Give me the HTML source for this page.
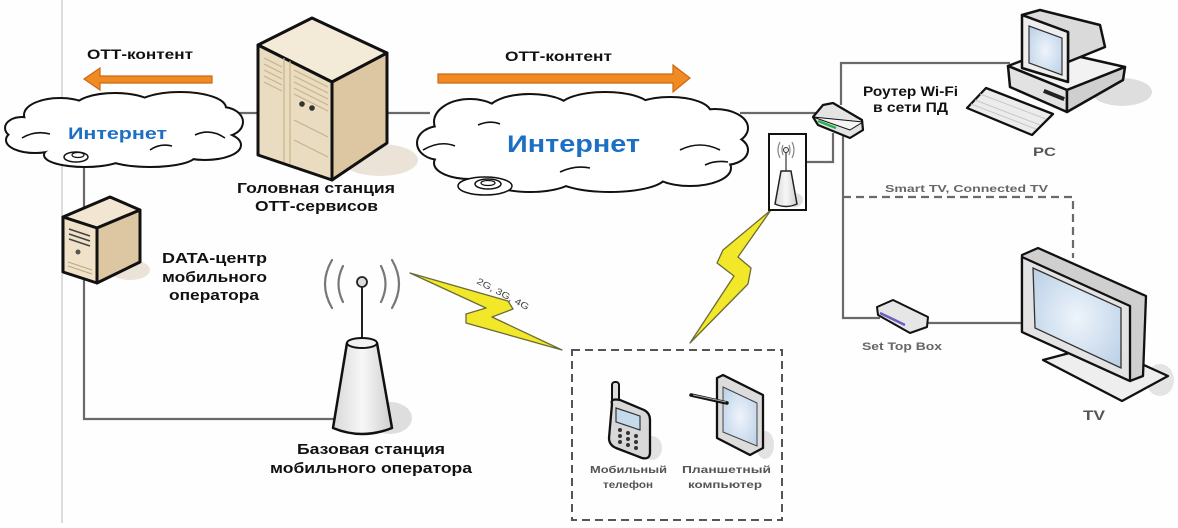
<!DOCTYPE html>
<html><head><meta charset="utf-8"><style>
html,body{margin:0;padding:0;background:#fff;}
svg{display:block;}
text{font-family:"Liberation Sans",Arial,sans-serif;}
</style></head><body>
<svg width="1178" height="528" viewBox="0 0 1178 528" xmlns="http://www.w3.org/2000/svg">
<defs>
<linearGradient id="cone" x1="0" x2="1" y1="0" y2="0"><stop offset="0" stop-color="#d8d8d8"/><stop offset="0.5" stop-color="#f7f7f7"/><stop offset="1" stop-color="#cfcfcf"/></linearGradient>
<radialGradient id="scr" cx="0.5" cy="0.5" r="0.7"><stop offset="0" stop-color="#eef4fb"/><stop offset="1" stop-color="#b9cfe6"/></radialGradient>
</defs>
<rect width="1178" height="528" fill="#fefefe"/>
<line x1="62" y1="0" x2="62" y2="523" stroke="#dcdcdc" stroke-width="2"/>

<!-- connectors -->
<g stroke="#6a6a6a" stroke-width="2.2" fill="none">
<polyline points="84,160 84,419 338,419"/>
<line x1="238" y1="113" x2="262" y2="113"/>
<line x1="385" y1="113" x2="430" y2="113"/>
<line x1="740" y1="113" x2="816" y2="113"/>
<polyline points="841,105 841,63 1010,63"/>
<polyline points="843,135 843,318 880,318"/>
<line x1="926" y1="323" x2="1024" y2="323"/>
<polyline points="833,133 833,162 806,162"/>
</g>
<polyline points="843,197 1073,197 1073,258" stroke="#6a6a6a" stroke-width="2.2" fill="none" stroke-dasharray="8,5"/>

<!-- orange arrows -->
<g fill="#f18a22" stroke="#c96a14" stroke-width="1.2">
<polygon points="212,76 100,76 100,68 84,79 100,90 100,83 212,83"/>
<polygon points="438,74 673,74 673,65 690,78 673,92 673,83 438,83"/>
</g>
<text x="87" y="59" font-size="14" font-weight="bold" fill="#111" textLength="106" lengthAdjust="spacingAndGlyphs">ОТТ-контент</text>
<text x="505" y="61" font-size="14" font-weight="bold" fill="#111" textLength="107" lengthAdjust="spacingAndGlyphs">ОТТ-контент</text>

<!-- left cloud -->
<g stroke="#111" stroke-width="4">
<ellipse cx="125" cy="130" rx="95" ry="24"/><ellipse cx="60" cy="115" rx="35" ry="16"/><ellipse cx="115" cy="108" rx="40" ry="14"/><ellipse cx="180" cy="108" rx="45" ry="15"/><ellipse cx="222" cy="122" rx="20" ry="14"/><ellipse cx="205" cy="145" rx="35" ry="14"/><ellipse cx="150" cy="155" rx="45" ry="11"/><ellipse cx="85" cy="155" rx="40" ry="11"/><ellipse cx="35" cy="140" rx="28" ry="12"/><ellipse cx="22" cy="128" rx="16" ry="10"/>
</g>
<g fill="#fff">
<ellipse cx="125" cy="130" rx="95" ry="24"/><ellipse cx="60" cy="115" rx="35" ry="16"/><ellipse cx="115" cy="108" rx="40" ry="14"/><ellipse cx="180" cy="108" rx="45" ry="15"/><ellipse cx="222" cy="122" rx="20" ry="14"/><ellipse cx="205" cy="145" rx="35" ry="14"/><ellipse cx="150" cy="155" rx="45" ry="11"/><ellipse cx="85" cy="155" rx="40" ry="11"/><ellipse cx="35" cy="140" rx="28" ry="12"/><ellipse cx="22" cy="128" rx="16" ry="10"/>
</g>
<g stroke="#111" stroke-width="1.6" fill="none">
<path d="M22,138 Q35,130 50,134"/><path d="M195,135 Q210,128 225,138"/><path d="M150,150 Q160,143 172,146"/>
</g>
<ellipse cx="76" cy="157" rx="12" ry="5" fill="#fff" stroke="#111" stroke-width="1.5"/>
<ellipse cx="78" cy="155" rx="6" ry="2.5" fill="#fff" stroke="#111" stroke-width="1.2"/>
<text x="68" y="139" font-size="17" font-weight="bold" fill="#1d6fc4" textLength="99" lengthAdjust="spacingAndGlyphs">Интернет</text>

<!-- middle cloud -->
<g stroke="#111" stroke-width="4">
<ellipse cx="585" cy="145" rx="135" ry="38"/><ellipse cx="470" cy="122" rx="35" ry="22"/><ellipse cx="530" cy="112" rx="42" ry="17"/><ellipse cx="605" cy="108" rx="45" ry="15"/><ellipse cx="670" cy="113" rx="40" ry="15"/><ellipse cx="715" cy="128" rx="32" ry="18"/><ellipse cx="725" cy="150" rx="22" ry="14"/><ellipse cx="690" cy="168" rx="40" ry="17"/><ellipse cx="610" cy="176" rx="55" ry="15"/><ellipse cx="530" cy="176" rx="45" ry="15"/><ellipse cx="470" cy="163" rx="35" ry="15"/><ellipse cx="440" cy="143" rx="22" ry="16"/>
</g>
<g fill="#fff">
<ellipse cx="585" cy="145" rx="135" ry="38"/><ellipse cx="470" cy="122" rx="35" ry="22"/><ellipse cx="530" cy="112" rx="42" ry="17"/><ellipse cx="605" cy="108" rx="45" ry="15"/><ellipse cx="670" cy="113" rx="40" ry="15"/><ellipse cx="715" cy="128" rx="32" ry="18"/><ellipse cx="725" cy="150" rx="22" ry="14"/><ellipse cx="690" cy="168" rx="40" ry="17"/><ellipse cx="610" cy="176" rx="55" ry="15"/><ellipse cx="530" cy="176" rx="45" ry="15"/><ellipse cx="470" cy="163" rx="35" ry="15"/><ellipse cx="440" cy="143" rx="22" ry="16"/>
</g>
<g stroke="#111" stroke-width="1.6" fill="none">
<path d="M423,150 Q440,140 455,146"/><path d="M680,150 Q700,140 720,150"/><path d="M705,165 Q715,160 728,162"/><path d="M560,172 Q575,165 590,168"/><path d="M478,125 Q490,120 500,124"/>
</g>
<ellipse cx="485" cy="186" rx="27" ry="9" fill="#fff" stroke="#111" stroke-width="1.5"/>
<ellipse cx="488" cy="184" rx="13" ry="5" fill="#fff" stroke="#111" stroke-width="1.5"/>
<ellipse cx="488" cy="183" rx="7" ry="2.5" fill="#fff" stroke="#111" stroke-width="1.2"/>
<text x="507" y="152" font-size="24" font-weight="bold" fill="#1d6fc4" textLength="133" lengthAdjust="spacingAndGlyphs">Интернет</text>

<!-- head-end server -->
<ellipse cx="380" cy="160" rx="38" ry="16" fill="#ebe3d8"/>
<g stroke="#111" stroke-width="3" stroke-linejoin="round">
<polygon points="258,45 312,18 387,53 332,82" fill="#f4ead8"/>
<polygon points="258,45 332,82 332,180 258,155" fill="#eadcc0"/>
<polygon points="332,82 387,53 387,143 332,180" fill="#dcc7a2"/>
</g>
<g stroke="#c9b28a" stroke-width="1.2" fill="none">
<line x1="284" y1="58" x2="284" y2="162"/><line x1="290" y1="61" x2="290" y2="164"/>
<path d="M264,58 L282,67 M264,64 L282,73 M264,70 L282,79 M264,76 L282,85 M264,82 L282,91"/>
<path d="M294,70 L328,87 M294,76 L328,93 M294,82 L328,99 M294,88 L328,105 M294,94 L328,111"/>
<path d="M294,120 L328,137 M294,140 L328,157"/>
</g>
<circle cx="302" cy="104" r="2.8" fill="#333"/><circle cx="312" cy="108" r="2.8" fill="#333"/>
<text x="237" y="193" font-size="15" font-weight="bold" fill="#111" textLength="158" lengthAdjust="spacingAndGlyphs">Головная станция</text>
<text x="255" y="211" font-size="15" font-weight="bold" fill="#111" textLength="123" lengthAdjust="spacingAndGlyphs">ОТТ-сервисов</text>

<!-- data center -->
<ellipse cx="130" cy="270" rx="20" ry="10" fill="#ece3d8"/>
<g stroke="#111" stroke-width="3" stroke-linejoin="round">
<polygon points="63,217 110,197 140,210 97,228" fill="#f2e6d2"/>
<polygon points="63,217 97,228 97,283 63,272" fill="#efe2c8"/>
<polygon points="97,228 140,210 140,262 97,283" fill="#dcc7a2"/>
</g>
<g stroke="#444" stroke-width="1.5"><line x1="69" y1="229" x2="90" y2="236"/><line x1="69" y1="234" x2="90" y2="241"/><line x1="69" y1="239" x2="90" y2="246"/></g>
<circle cx="78" cy="252" r="2.5" fill="#555"/>
<g stroke="#b9a582" stroke-width="1"><line x1="68" y1="262" x2="92" y2="270"/><line x1="68" y1="266" x2="92" y2="274"/></g>
<text x="162" y="263" font-size="15" font-weight="bold" fill="#111" textLength="105" lengthAdjust="spacingAndGlyphs">DATA-центр</text>
<text x="162" y="282" font-size="15" font-weight="bold" fill="#111" textLength="105" lengthAdjust="spacingAndGlyphs">мобильного</text>
<text x="169" y="300" font-size="15" font-weight="bold" fill="#111" textLength="90" lengthAdjust="spacingAndGlyphs">оператора</text>

<!-- base station -->
<ellipse cx="390" cy="418" rx="22" ry="16" fill="#dedede"/>
<g stroke="#777" stroke-width="2.2" fill="none" stroke-linecap="round">
<path d="M343,266 Q334,284 343,302"/><path d="M332,260 Q318,284 332,308"/>
<path d="M381,266 Q390,284 381,302"/><path d="M392,260 Q406,284 392,308"/>
</g>
<line x1="362" y1="287" x2="362" y2="340" stroke="#222" stroke-width="2"/>
<circle cx="362" cy="282" r="5" fill="#ddd" stroke="#222" stroke-width="1.8"/>
<path d="M347,343 L377,343 L392,428 Q362,440 333,428 Z" fill="url(#cone)" stroke="#111" stroke-width="2.5" stroke-linejoin="round"/>
<ellipse cx="362" cy="343" rx="15" ry="5" fill="#f2f2f2" stroke="#111" stroke-width="2"/>
<text x="297" y="454" font-size="15" font-weight="bold" fill="#111" textLength="148" lengthAdjust="spacingAndGlyphs">Базовая станция</text>
<text x="270" y="473" font-size="15" font-weight="bold" fill="#111" textLength="202" lengthAdjust="spacingAndGlyphs">мобильного оператора</text>

<!-- lightning 1 -->
<polygon points="410,273 508,301 513,309 492,317 562,350 466,323 466,314 486,308" fill="#f2e829" stroke="#6b6b3a" stroke-width="1.3" stroke-linejoin="round"/>
<text x="0" y="0" font-size="9" fill="#444" transform="translate(476,283) rotate(28)" textLength="58" lengthAdjust="spacingAndGlyphs">2G, 3G, 4G</text>

<!-- lightning 2 -->
<polygon points="771,210 723,250 717,263 734,276 690,343 748,284 751,268 738,257" fill="#f2e829" stroke="#6b6b3a" stroke-width="1.3" stroke-linejoin="round"/>

<!-- access point box -->
<rect x="769" y="134" width="37" height="76" fill="#fff" stroke="#111" stroke-width="2"/>
<ellipse cx="795" cy="200" rx="8" ry="7" fill="#e2e2e2"/>
<g stroke="#888" stroke-width="1.2" fill="none"><path d="M780,142 Q776,150 780,158"/><path d="M783,145 Q781,150 783,155"/><path d="M792,142 Q796,150 792,158"/><path d="M789,145 Q791,150 789,155"/></g>
<line x1="786" y1="152" x2="786" y2="171" stroke="#333" stroke-width="1.2"/>
<circle cx="786" cy="150" r="2.5" fill="#eee" stroke="#333" stroke-width="1"/>
<path d="M781,171 L791,171 L797,204 Q786,209 775,204 Z" fill="url(#cone)" stroke="#222" stroke-width="1.5"/>

<!-- router -->
<g stroke="#111" stroke-width="2.2" stroke-linejoin="round">
<polygon points="813,117 823,105 833,103 862,120 863,130 850,138 818,125" fill="#e4e4e4"/>
<polygon points="813,117 850,130 863,122" fill="#f5f5f5" stroke-width="1"/>
</g>
<line x1="818" y1="121" x2="836" y2="128" stroke="#27b34a" stroke-width="2.5"/>
<text x="863" y="96" font-size="13.5" font-weight="bold" fill="#111" textLength="95" lengthAdjust="spacingAndGlyphs">Роутер Wi-Fi</text>
<text x="873" y="112" font-size="13.5" font-weight="bold" fill="#111" textLength="75" lengthAdjust="spacingAndGlyphs">в сети ПД</text>

<!-- PC -->
<ellipse cx="1122" cy="92" rx="30" ry="14" fill="#dedede"/>
<g stroke="#111" stroke-width="2.5" stroke-linejoin="round">
<polygon points="1008,66 1050,50 1125,67 1067,90" fill="#f2f2f2"/>
<polygon points="1008,66 1067,90 1067,112 1010,87" fill="#e2e2e2"/>
<polygon points="1067,90 1125,67 1123,80 1067,112" fill="#cfcfcf"/>
<polygon points="1022,15 1040,10 1100,25 1105,47 1068,62 1068,32" fill="#dadada"/>
<polygon points="1022,15 1068,32 1068,82 1022,68" fill="#eeeeee"/>
</g>
<polygon points="1029,26 1062,38 1062,75 1029,63" fill="url(#scr)" stroke="#333" stroke-width="1.2"/>
<rect x="1043" y="93" width="22" height="4" fill="#222" transform="rotate(22 1054 95)"/>
<polygon points="967,108 986,88 1053,114 1032,135" fill="#ececec" stroke="#111" stroke-width="2.3" stroke-linejoin="round"/>
<g stroke="#c8c8c8" stroke-width="1"><line x1="975" y1="100" x2="1040" y2="125"/><line x1="980" y1="94" x2="1046" y2="119"/><line x1="971" y1="104" x2="1036" y2="129"/></g>
<text x="1033" y="156" font-size="12" font-weight="bold" fill="#555" textLength="23" lengthAdjust="spacingAndGlyphs">PC</text>

<text x="885" y="192" font-size="10.5" fill="#666" font-weight="bold" textLength="163" lengthAdjust="spacingAndGlyphs">Smart TV, Connected TV</text>

<!-- STB -->
<g stroke="#111" stroke-width="2" stroke-linejoin="round">
<polygon points="877,307 893,300 928,317 927,327 910,333 878,315" fill="#e6e6e6"/>
</g>
<line x1="880" y1="313" x2="905" y2="325" stroke="#6a5fc0" stroke-width="2.5"/>
<text x="862" y="350" font-size="11" font-weight="bold" fill="#666" textLength="80" lengthAdjust="spacingAndGlyphs">Set Top Box</text>

<!-- TV -->
<ellipse cx="1160" cy="380" rx="14" ry="16" fill="#e4e4e4"/>
<polygon points="1043,360 1122,401 1168,376 1100,345" fill="#eeeeee" stroke="#111" stroke-width="2.3" stroke-linejoin="round"/>
<g stroke="#111" stroke-width="2.3" stroke-linejoin="round">
<polygon points="1022,255 1038,248 1146,296 1143,376 1130,381 1022,332" fill="#cfcfcf"/>
<polygon points="1022,257 1130,306 1130,381 1022,332" fill="#e3e3e3"/>
</g>
<polygon points="1033,268 1121,308 1121,368 1035,328" fill="url(#scr)" stroke="#333" stroke-width="1.3"/>
<text x="1083" y="420" font-size="14" font-weight="bold" fill="#555" textLength="22" lengthAdjust="spacingAndGlyphs">TV</text>

<!-- devices box -->
<rect x="572" y="350" width="210" height="170" fill="none" stroke="#555" stroke-width="2" stroke-dasharray="8,5"/>
<!-- phone -->
<ellipse cx="652" cy="448" rx="10" ry="12" fill="#e2e2e2"/>
<rect x="612" y="382" width="7" height="22" rx="3" fill="#ddd" stroke="#111" stroke-width="2"/>
<path d="M612,404 Q610,398 620,400 L644,410 Q650,413 650,420 L650,452 Q650,460 642,458 L616,448 Q609,445 609,438 Z" fill="#d8d8d8" stroke="#111" stroke-width="2.3"/>
<polygon points="616,408 640,416 640,430 616,422" fill="#c6daee" stroke="#333" stroke-width="1.2"/>
<g fill="#333"><circle cx="620" cy="430" r="2"/><circle cx="628" cy="433" r="2"/><circle cx="636" cy="436" r="2"/><circle cx="620" cy="436" r="2"/><circle cx="628" cy="439" r="2"/><circle cx="636" cy="442" r="2"/><circle cx="620" cy="442" r="2"/><circle cx="628" cy="445" r="2"/><circle cx="636" cy="448" r="2"/></g>
<!-- tablet -->
<ellipse cx="765" cy="445" rx="9" ry="14" fill="#e2e2e2"/>
<polygon points="717,378 723,375 763,395 763,448 750,455 717,438" fill="#dcdcdc" stroke="#111" stroke-width="2.3" stroke-linejoin="round"/>
<polygon points="723,387 757,403 757,446 723,432" fill="url(#scr)" stroke="#444" stroke-width="1"/>
<line x1="691" y1="395" x2="727" y2="403" stroke="#111" stroke-width="3.5" stroke-linecap="round"/>
<line x1="693" y1="395" x2="726" y2="402" stroke="#aaa" stroke-width="1"/>
<text x="590" y="473" font-size="10.5" fill="#555" font-weight="bold" textLength="77" lengthAdjust="spacingAndGlyphs">Мобильный</text>
<text x="603" y="488" font-size="10.5" fill="#555" font-weight="bold" textLength="50" lengthAdjust="spacingAndGlyphs">телефон</text>
<text x="682" y="473" font-size="10.5" fill="#555" font-weight="bold" textLength="89" lengthAdjust="spacingAndGlyphs">Планшетный</text>
<text x="688" y="488" font-size="10.5" fill="#555" font-weight="bold" textLength="74" lengthAdjust="spacingAndGlyphs">компьютер</text>
</svg>
</body></html>
